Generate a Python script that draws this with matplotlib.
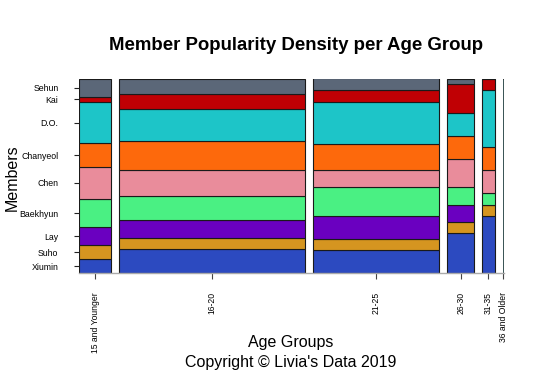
import matplotlib
matplotlib.use("Agg")
import matplotlib.pyplot as plt
import numpy as np

plt.rcParams['font.family'] = ['Liberation Sans', 'DejaVu Sans']

age_groups = ["15 and Younger", "16-20", "21-25", "26-30", "31-35", "36 and Older"]
members = ["Xiumin", "Suho", "Lay", "Baekhyun", "Chen", "Chanyeol", "D.O.", "Kai", "Sehun"]
colors = ["#2c4ac0", "#d59520", "#6a00c0", "#4af083", "#e98c9b",
          "#fd690c", "#1dc5c8", "#c00004", "#5b6778"]

# counts per age group, member order as in `members` (bottom to top)
counts_15_younger = [3, 3, 4, 6, 7, 5, 9, 1, 4]
counts_16_20 = [30, 14, 22, 30, 32, 36, 39, 19, 19]
counts_21_25 = [20, 9, 19, 25, 14, 22, 35, 10, 10]
counts_26_30 = [7, 2, 3, 3, 5, 4, 4, 5, 1]
counts_31_35 = [5, 1, 0, 1, 2, 2, 5, 1, 0]
counts_36_older = [0, 0, 0, 0, 0, 0, 1, 0, 0]

table = np.array([counts_15_younger, counts_16_20, counts_21_25,
                  counts_26_30, counts_31_35, counts_36_older], dtype=float)

fig = plt.figure(figsize=(5.45, 3.72), dpi=100)
ax = fig.add_axes([79 / 545, 1 - 273.3 / 372, (503.5 - 79) / 545, (273.3 - 78.5) / 372])

gap = 0.0188
col_totals = table.sum(axis=1)
widths = col_totals / col_totals.sum() * (1 - gap * (len(age_groups) - 1))
lefts = np.concatenate([[0], np.cumsum(widths + gap)[:-1]])

for j in range(len(age_groups)):
    props = table[j] / col_totals[j]
    bottoms = np.concatenate([[0], np.cumsum(props)[:-1]])
    lw = 0.8 if widths[j] > 0.01 else 0.5
    ax.bar(np.full(len(members), lefts[j]), props, width=widths[j], bottom=bottoms,
           align='edge', color=colors, edgecolor='#1a1a1a', linewidth=lw)

ax.set_xlim(0, 1)
ax.set_ylim(0, 1)

# axis ticks
ax.set_xticks(lefts + widths / 2)
ax.set_xticklabels(age_groups, rotation=90, fontsize=6.2, va='top')
first = table[0] / col_totals[0]
first_b = np.concatenate([[0], np.cumsum(first)[:-1]])
ax.set_yticks(first_b + first / 2)
ax.set_yticklabels(members, fontsize=6.3)
ax.tick_params(axis='x', length=4, width=0.8, pad=9.5, color='#444444')
ax.tick_params(axis='y', length=3.8, width=0.8, pad=11, color='#222222')

for s in ['top', 'right', 'left']:
    ax.spines[s].set_visible(False)
ax.spines['bottom'].set_color('#aaaaaa')
ax.spines['bottom'].set_linewidth(1.0)

fig.text(296 / 545, 1 - 50 / 372, "Member Popularity Density per Age Group",
         ha='center', va='baseline', fontsize=13.4, fontweight='bold')
fig.text(291 / 545, 1 - 347.5 / 372, "Age Groups", ha='center', va='baseline', fontsize=11.5)
fig.text(291 / 545, 1 - 366.5 / 372, "Copyright \u00a9 Livia's Data 2019",
         ha='center', va='baseline', fontsize=11.5)
fig.text(12 / 545, 1 - 178 / 372, "Members", rotation=90, ha='center', va='center', fontsize=11.5)

fig.savefig("out.png", dpi=100)
